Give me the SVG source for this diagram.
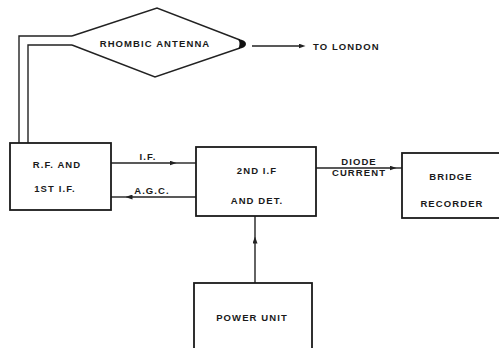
<svg xmlns="http://www.w3.org/2000/svg" width="499" height="348" viewBox="0 0 499 348">
<defs>
<style>
.ln{fill:none;stroke:#222;stroke-width:1.4}
.bx{fill:#fff;stroke:#1a1a1a;stroke-width:1.8}
.t{font-family:"Liberation Sans",Arial,sans-serif;font-size:9.5px;font-weight:bold;fill:#1a1a1a;letter-spacing:1.1px}
</style>
<marker id="ah" viewBox="0 0 7 5" refX="3.5" refY="2.5" markerWidth="7" markerHeight="5" orient="auto" markerUnits="userSpaceOnUse">
<path d="M0,0 L7,2.5 L0,5 Z" fill="#222"/>
</marker>
</defs>
<rect width="499" height="348" fill="#fff"/>
<g id="connectors">
<path class="ln" d="M72,36 L19,36 L19,143"/>
<path class="ln" d="M72,45 L28,45 L28,143"/>
<path class="ln" d="M252,46 L302,46" marker-end="url(#ah)"/>
<path class="ln" d="M111,163 L173,163" marker-end="url(#ah)"/>
<path class="ln" d="M171,163 L196,163"/>
<path class="ln" d="M196,197 L129,197" marker-end="url(#ah)"/>
<path class="ln" d="M131,197 L111,197"/>
<path class="ln" d="M316,168 L393,168" marker-end="url(#ah)"/>
<path class="ln" d="M391,168 L402,168"/>
<path class="ln" d="M255,283 L255,240" marker-end="url(#ah)"/>
<path class="ln" d="M255,242 L255,216"/>
</g>
<g id="antenna">
<path class="ln" d="M72,36 L157,8 L240,40 M72,45 L155,77 L240,48"/>
<path d="M238,39 Q246,40 246,44 Q246,48 238,49 Q241,44 238,39 Z" fill="#111"/>
<text class="t" x="155" y="47" text-anchor="middle">RHOMBIC ANTENNA</text>
</g>
<g id="london">
<text class="t" x="313" y="50">TO LONDON</text>
</g>
<g id="rf">
<rect class="bx" x="10" y="143" width="101" height="67"/>
<text class="t" x="57" y="168" text-anchor="middle">R.F. AND</text>
<text class="t" x="55" y="192" text-anchor="middle">1ST I.F.</text>
</g>
<g id="labels">
<text class="t" x="148" y="160" text-anchor="middle">I.F.</text>
<text class="t" x="152" y="194" text-anchor="middle">A.G.C.</text>
<text class="t" x="359" y="165" text-anchor="middle">DIODE</text>
<text class="t" x="359" y="176" text-anchor="middle">CURRENT</text>
</g>
<g id="det">
<rect class="bx" x="196" y="147" width="120" height="69"/>
<text class="t" x="257" y="174" text-anchor="middle">2ND I.F</text>
<text class="t" x="257" y="204" text-anchor="middle">AND DET.</text>
</g>
<g id="recorder">
<rect class="bx" x="402" y="153" width="110" height="65"/>
<text class="t" x="451" y="180" text-anchor="middle">BRIDGE</text>
<text class="t" x="452" y="207" text-anchor="middle">RECORDER</text>
</g>
<g id="power">
<rect class="bx" x="194" y="283" width="118" height="80"/>
<text class="t" x="252" y="321" text-anchor="middle">POWER UNIT</text>
</g>
</svg>
